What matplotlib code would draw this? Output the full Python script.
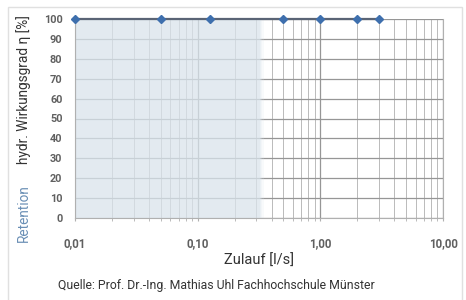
import numpy as np
import matplotlib
matplotlib.use("Agg")
import matplotlib.pyplot as plt
from matplotlib.ticker import FixedLocator, LogLocator, NullFormatter
from matplotlib.patches import Rectangle

# Daten
zulauf = [0.01, 0.05, 0.125, 0.5, 1.0, 2.0, 3.0]
wirkungsgrad = [100, 100, 100, 100, 100, 100, 100]
retention_bis = 0.32

x_ticks = [0.01, 0.1, 1.0, 10.0]
x_ticklabels = ["0,01", "0,10", "1,00", "10,00"]
y_ticks = list(range(0, 101, 10))

plt.rcParams["font.family"] = ["Roboto", "DejaVu Sans"]

fig = plt.figure(figsize=(4.66, 3.0), dpi=100)
fig.patch.set_facecolor("white")

# Rahmen um die ganze Grafik
fig.patches.append(Rectangle((8 / 466, -0.05), 454 / 466, 1.05 - 7 / 300,
                             transform=fig.transFigure, fill=False,
                             edgecolor="#e0e0e0", linewidth=1.0))

ax = fig.add_axes([75 / 466, 1 - 218 / 300, 368 / 466, 199 / 300])
ax.set_xscale("log")
ax.set_xlim(0.01, 10)
ax.set_ylim(0, 100)

# Retentionsbereich (halbtransparent über dem Gitter, mit weichem Rand)
ax.axvspan(0.01, retention_bis, color="#dae4ec", alpha=0.75, zorder=2, lw=0)
for k, a in enumerate([0.55, 0.35, 0.18]):
    ax.axvspan(retention_bis * 1.025 ** k, retention_bis * 1.025 ** (k + 1),
               color="#dae4ec", alpha=a, zorder=2, lw=0)

# Gitter
ax.xaxis.set_major_locator(FixedLocator(x_ticks))
ax.xaxis.set_minor_locator(LogLocator(base=10, subs=np.arange(2, 10), numticks=20))
ax.xaxis.set_minor_formatter(NullFormatter())
ax.set_xticklabels(x_ticklabels)
ax.set_yticks(y_ticks)
ax.grid(which="major", axis="both", color="#969696", linewidth=0.9, zorder=1)
ax.grid(which="minor", axis="x", color="#bababa", linewidth=0.7, zorder=1)
ax.set_axisbelow(True)

# Kurve
ax.plot(zulauf, wirkungsgrad, color="#5a6475", linewidth=1.6, zorder=3,
        clip_on=False)
ax.plot(zulauf, wirkungsgrad, linestyle="none", marker="D", markersize=4.5,
        color="#3e6fad", zorder=4, clip_on=False)

for s in ax.spines.values():
    s.set_color("#b0b0b0")
    s.set_linewidth(0.8)
ax.spines["top"].set_visible(False)

ax.tick_params(axis="both", which="both", length=0, colors="#606060")
ax.tick_params(axis="x", which="both", length=2, color="#b0b0b0",
               direction="out", pad=12, labelsize=8.3)
ax.tick_params(axis="y", pad=9, labelsize=7.8)
for lbl in ax.get_xticklabels() + ax.get_yticklabels():
    lbl.set_fontweight("bold")

fig.text(259 / 466, 1 - 261 / 300, "Zulauf [l/s]", ha="center", va="center",
         fontsize=10.5, color="#333333")

fig.text(24 / 466, 1 - 90 / 300, "hydr. Wirkungsgrad \u03b7 [%]", rotation=90,
         ha="center", va="center", fontsize=9.8, color="#333333")
fig.text(24 / 466, 1 - 213 / 300, "Retention", rotation=90,
         ha="center", va="center", fontsize=9.8, color="#6a8fb5")

fig.text(216 / 466, 1 - 286 / 300,
         "Quelle: Prof. Dr.-Ing. Mathias Uhl Fachhochschule M\u00fcnster",
         ha="center", va="center", fontsize=8.8, color="#333333")

fig.savefig("out.png", dpi=100, facecolor=fig.get_facecolor())
